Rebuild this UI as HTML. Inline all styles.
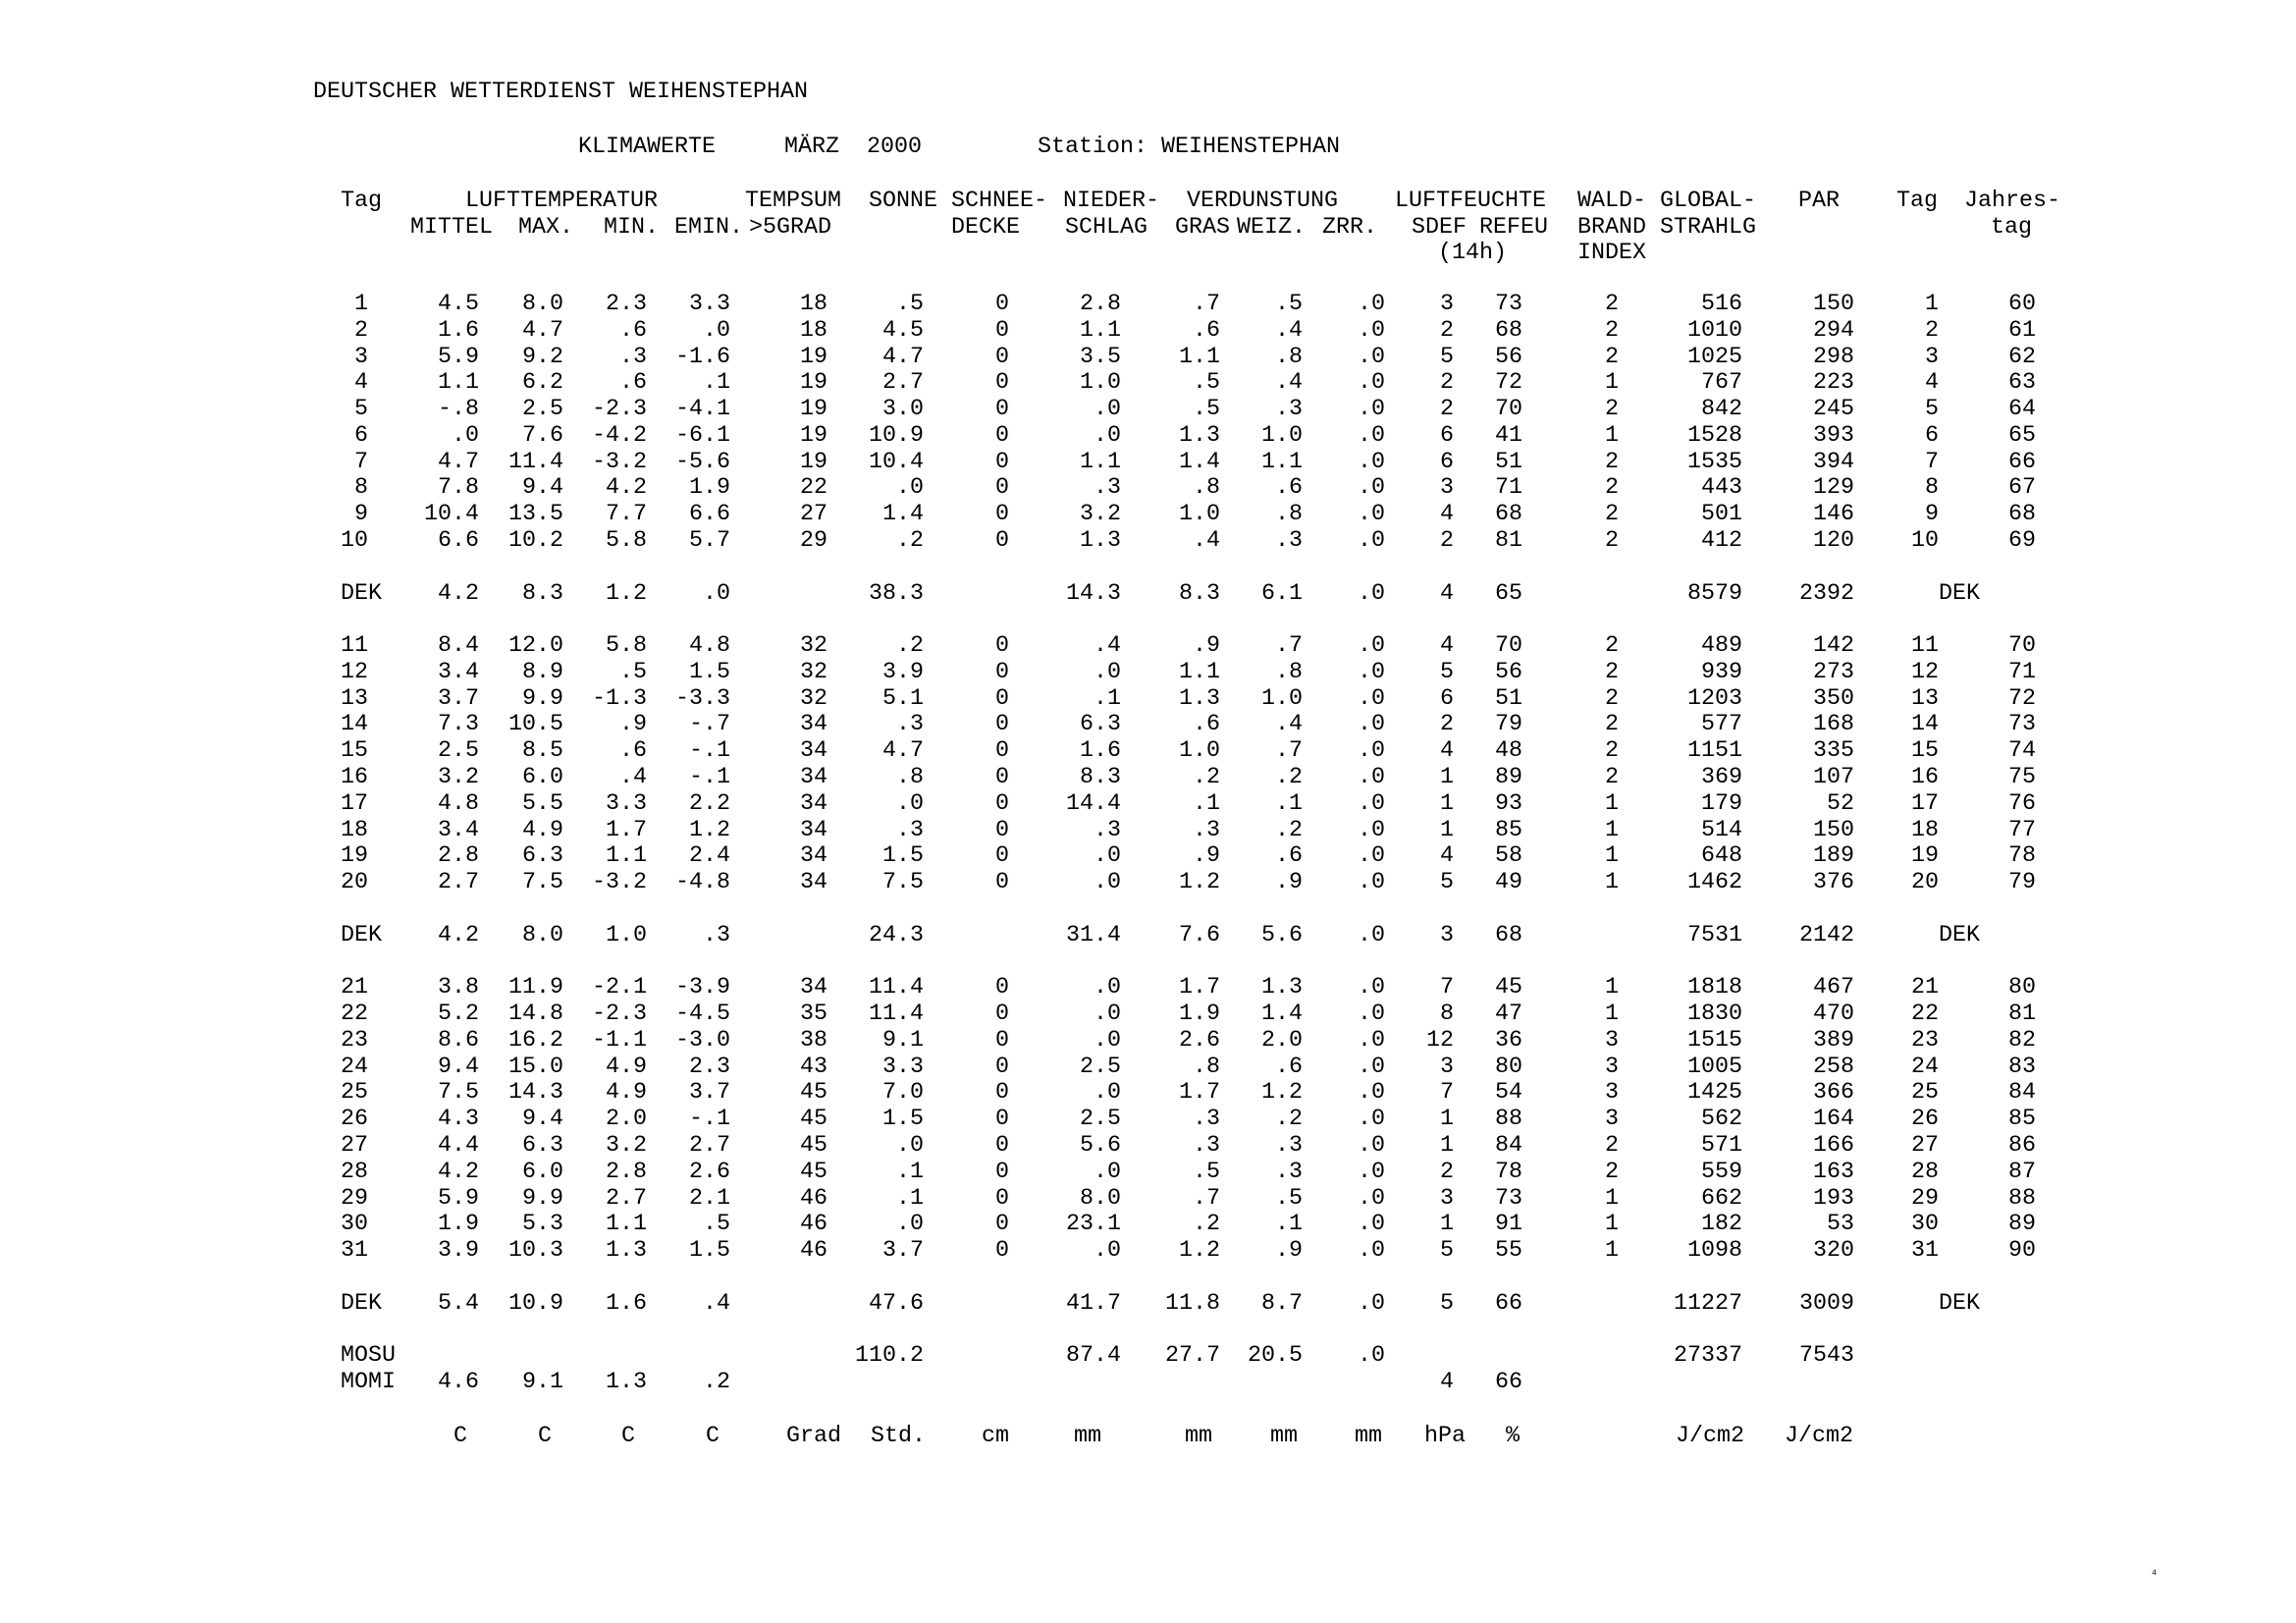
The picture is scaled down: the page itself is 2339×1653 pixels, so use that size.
<!DOCTYPE html>
<html><head><meta charset="utf-8"><style>
html,body{margin:0;padding:0;background:#fff;}
body{width:2339px;height:1653px;position:relative;overflow:hidden;font-family:"Liberation Mono",monospace;font-size:23.33px;color:#000;}
.a{position:absolute;white-space:pre;line-height:26.9px;}
#t{position:absolute;left:319px;top:82.7px;}
.r{height:26.79px;line-height:26.79px;white-space:nowrap;}
.r span{display:inline-block;text-align:right;white-space:pre;vertical-align:top;position:relative;}
.r span:nth-child(1){width:56px}
.r span:nth-child(2){width:112px;left:1px}
.r span:nth-child(3){width:84px;left:3px}
.r span:nth-child(4){width:84px;left:4px}
.r span:nth-child(5){width:84px;left:5px}
.r span:nth-child(6){width:98px;left:6px}
.r span:nth-child(7){width:98px;left:6px}
.r span:nth-child(8){width:84px;left:9px}
.r span:nth-child(9){width:112px;left:11px}
.r span:nth-child(10){width:112px;left:0px}
.r span:nth-child(11){width:84px;left:0px}
.r span:nth-child(12){width:84px;left:0px}
.r span:nth-child(13){width:70px;left:0px}
.r span:nth-child(14){width:70px;left:0px}
.r span:nth-child(15){width:98px}
.r span:nth-child(16){width:126px}
.r span:nth-child(17){width:112px;left:2px}
.r span:nth-child(18){width:84px;left:4px}
.r span:nth-child(19){width:98px;left:5px}
.r span.d{left:-10px}
.r span.l{text-align:left;padding-left:28px;box-sizing:border-box;}
</style></head><body>
<div class="a" style="left:319px;top:81px">DEUTSCHER WETTERDIENST WEIHENSTEPHAN</div>
<div class="a" style="left:589px;top:136.5px">KLIMAWERTE</div>
<div class="a" style="left:799px;top:136.5px">MÄRZ</div>
<div class="a" style="left:883px;top:136.5px">2000</div>
<div class="a" style="left:1057px;top:136.5px">Station: WEIHENSTEPHAN</div>

<div class="a" style="left:347px;top:191.6px">Tag</div>
<div class="a" style="left:474px;top:191.6px">LUFTTEMPERATUR</div>
<div class="a" style="left:759px;top:191.6px">TEMPSUM</div>
<div class="a" style="left:885px;top:191.6px">SONNE</div>
<div class="a" style="left:969px;top:191.6px">SCHNEE-</div>
<div class="a" style="left:1083px;top:191.6px">NIEDER-</div>
<div class="a" style="left:1209px;top:191.6px">VERDUNSTUNG</div>
<div class="a" style="left:1421px;top:191.6px">LUFTFEUCHTE</div>
<div class="a" style="left:1607px;top:191.6px">WALD-</div>
<div class="a" style="left:1691px;top:191.6px">GLOBAL-</div>
<div class="a" style="left:1832px;top:191.6px">PAR</div>
<div class="a" style="left:1932px;top:191.6px">Tag</div>
<div class="a" style="left:2001px;top:191.6px">Jahres-</div>

<div class="a" style="left:418px;top:218.5px">MITTEL</div>
<div class="a" style="left:528px;top:218.5px">MAX.</div>
<div class="a" style="left:615px;top:218.5px">MIN.</div>
<div class="a" style="left:687px;top:218.5px">EMIN.</div>
<div class="a" style="left:763px;top:218.5px">&gt;5GRAD</div>
<div class="a" style="left:969px;top:218.5px">DECKE</div>
<div class="a" style="left:1085px;top:218.5px">SCHLAG</div>
<div class="a" style="left:1197px;top:218.5px">GRAS</div>
<div class="a" style="left:1260px;top:218.5px">WEIZ.</div>
<div class="a" style="left:1347px;top:218.5px">ZRR.</div>
<div class="a" style="left:1438px;top:218.5px">SDEF</div>
<div class="a" style="left:1507px;top:218.5px">REFEU</div>
<div class="a" style="left:1607px;top:218.5px">BRAND</div>
<div class="a" style="left:1691px;top:218.5px">STRAHLG</div>
<div class="a" style="left:2028px;top:218.5px">tag</div>

<div class="a" style="left:1465px;top:245.4px">(14h)</div>
<div class="a" style="left:1607px;top:245.4px">INDEX</div>

<div id="t">
<div class="r"></div><div class="r"></div><div class="r"></div><div class="r"></div><div class="r"></div><div class="r"></div><div class="r"></div><div class="r"></div>
<div class="r"><span>1</span><span>4.5</span><span>8.0</span><span>2.3</span><span>3.3</span><span>18</span><span>.5</span><span>0</span><span>2.8</span><span>.7</span><span>.5</span><span>.0</span><span>3</span><span>73</span><span>2</span><span>516</span><span>150</span><span>1</span><span>60</span></div>
<div class="r"><span>2</span><span>1.6</span><span>4.7</span><span>.6</span><span>.0</span><span>18</span><span>4.5</span><span>0</span><span>1.1</span><span>.6</span><span>.4</span><span>.0</span><span>2</span><span>68</span><span>2</span><span>1010</span><span>294</span><span>2</span><span>61</span></div>
<div class="r"><span>3</span><span>5.9</span><span>9.2</span><span>.3</span><span>-1.6</span><span>19</span><span>4.7</span><span>0</span><span>3.5</span><span>1.1</span><span>.8</span><span>.0</span><span>5</span><span>56</span><span>2</span><span>1025</span><span>298</span><span>3</span><span>62</span></div>
<div class="r"><span>4</span><span>1.1</span><span>6.2</span><span>.6</span><span>.1</span><span>19</span><span>2.7</span><span>0</span><span>1.0</span><span>.5</span><span>.4</span><span>.0</span><span>2</span><span>72</span><span>1</span><span>767</span><span>223</span><span>4</span><span>63</span></div>
<div class="r"><span>5</span><span>-.8</span><span>2.5</span><span>-2.3</span><span>-4.1</span><span>19</span><span>3.0</span><span>0</span><span>.0</span><span>.5</span><span>.3</span><span>.0</span><span>2</span><span>70</span><span>2</span><span>842</span><span>245</span><span>5</span><span>64</span></div>
<div class="r"><span>6</span><span>.0</span><span>7.6</span><span>-4.2</span><span>-6.1</span><span>19</span><span>10.9</span><span>0</span><span>.0</span><span>1.3</span><span>1.0</span><span>.0</span><span>6</span><span>41</span><span>1</span><span>1528</span><span>393</span><span>6</span><span>65</span></div>
<div class="r"><span>7</span><span>4.7</span><span>11.4</span><span>-3.2</span><span>-5.6</span><span>19</span><span>10.4</span><span>0</span><span>1.1</span><span>1.4</span><span>1.1</span><span>.0</span><span>6</span><span>51</span><span>2</span><span>1535</span><span>394</span><span>7</span><span>66</span></div>
<div class="r"><span>8</span><span>7.8</span><span>9.4</span><span>4.2</span><span>1.9</span><span>22</span><span>.0</span><span>0</span><span>.3</span><span>.8</span><span>.6</span><span>.0</span><span>3</span><span>71</span><span>2</span><span>443</span><span>129</span><span>8</span><span>67</span></div>
<div class="r"><span>9</span><span>10.4</span><span>13.5</span><span>7.7</span><span>6.6</span><span>27</span><span>1.4</span><span>0</span><span>3.2</span><span>1.0</span><span>.8</span><span>.0</span><span>4</span><span>68</span><span>2</span><span>501</span><span>146</span><span>9</span><span>68</span></div>
<div class="r"><span>10</span><span>6.6</span><span>10.2</span><span>5.8</span><span>5.7</span><span>29</span><span>.2</span><span>0</span><span>1.3</span><span>.4</span><span>.3</span><span>.0</span><span>2</span><span>81</span><span>2</span><span>412</span><span>120</span><span>10</span><span>69</span></div>
<div class="r"></div>
<div class="r"><span class="l">DEK</span><span>4.2</span><span>8.3</span><span>1.2</span><span>.0</span><span></span><span>38.3</span><span></span><span>14.3</span><span>8.3</span><span>6.1</span><span>.0</span><span>4</span><span>65</span><span></span><span>8579</span><span>2392</span><span></span><span class="d">DEK   </span></div>
<div class="r"></div>
<div class="r"><span>11</span><span>8.4</span><span>12.0</span><span>5.8</span><span>4.8</span><span>32</span><span>.2</span><span>0</span><span>.4</span><span>.9</span><span>.7</span><span>.0</span><span>4</span><span>70</span><span>2</span><span>489</span><span>142</span><span>11</span><span>70</span></div>
<div class="r"><span>12</span><span>3.4</span><span>8.9</span><span>.5</span><span>1.5</span><span>32</span><span>3.9</span><span>0</span><span>.0</span><span>1.1</span><span>.8</span><span>.0</span><span>5</span><span>56</span><span>2</span><span>939</span><span>273</span><span>12</span><span>71</span></div>
<div class="r"><span>13</span><span>3.7</span><span>9.9</span><span>-1.3</span><span>-3.3</span><span>32</span><span>5.1</span><span>0</span><span>.1</span><span>1.3</span><span>1.0</span><span>.0</span><span>6</span><span>51</span><span>2</span><span>1203</span><span>350</span><span>13</span><span>72</span></div>
<div class="r"><span>14</span><span>7.3</span><span>10.5</span><span>.9</span><span>-.7</span><span>34</span><span>.3</span><span>0</span><span>6.3</span><span>.6</span><span>.4</span><span>.0</span><span>2</span><span>79</span><span>2</span><span>577</span><span>168</span><span>14</span><span>73</span></div>
<div class="r"><span>15</span><span>2.5</span><span>8.5</span><span>.6</span><span>-.1</span><span>34</span><span>4.7</span><span>0</span><span>1.6</span><span>1.0</span><span>.7</span><span>.0</span><span>4</span><span>48</span><span>2</span><span>1151</span><span>335</span><span>15</span><span>74</span></div>
<div class="r"><span>16</span><span>3.2</span><span>6.0</span><span>.4</span><span>-.1</span><span>34</span><span>.8</span><span>0</span><span>8.3</span><span>.2</span><span>.2</span><span>.0</span><span>1</span><span>89</span><span>2</span><span>369</span><span>107</span><span>16</span><span>75</span></div>
<div class="r"><span>17</span><span>4.8</span><span>5.5</span><span>3.3</span><span>2.2</span><span>34</span><span>.0</span><span>0</span><span>14.4</span><span>.1</span><span>.1</span><span>.0</span><span>1</span><span>93</span><span>1</span><span>179</span><span>52</span><span>17</span><span>76</span></div>
<div class="r"><span>18</span><span>3.4</span><span>4.9</span><span>1.7</span><span>1.2</span><span>34</span><span>.3</span><span>0</span><span>.3</span><span>.3</span><span>.2</span><span>.0</span><span>1</span><span>85</span><span>1</span><span>514</span><span>150</span><span>18</span><span>77</span></div>
<div class="r"><span>19</span><span>2.8</span><span>6.3</span><span>1.1</span><span>2.4</span><span>34</span><span>1.5</span><span>0</span><span>.0</span><span>.9</span><span>.6</span><span>.0</span><span>4</span><span>58</span><span>1</span><span>648</span><span>189</span><span>19</span><span>78</span></div>
<div class="r"><span>20</span><span>2.7</span><span>7.5</span><span>-3.2</span><span>-4.8</span><span>34</span><span>7.5</span><span>0</span><span>.0</span><span>1.2</span><span>.9</span><span>.0</span><span>5</span><span>49</span><span>1</span><span>1462</span><span>376</span><span>20</span><span>79</span></div>
<div class="r"></div>
<div class="r"><span class="l">DEK</span><span>4.2</span><span>8.0</span><span>1.0</span><span>.3</span><span></span><span>24.3</span><span></span><span>31.4</span><span>7.6</span><span>5.6</span><span>.0</span><span>3</span><span>68</span><span></span><span>7531</span><span>2142</span><span></span><span class="d">DEK   </span></div>
<div class="r"></div>
<div class="r"><span>21</span><span>3.8</span><span>11.9</span><span>-2.1</span><span>-3.9</span><span>34</span><span>11.4</span><span>0</span><span>.0</span><span>1.7</span><span>1.3</span><span>.0</span><span>7</span><span>45</span><span>1</span><span>1818</span><span>467</span><span>21</span><span>80</span></div>
<div class="r"><span>22</span><span>5.2</span><span>14.8</span><span>-2.3</span><span>-4.5</span><span>35</span><span>11.4</span><span>0</span><span>.0</span><span>1.9</span><span>1.4</span><span>.0</span><span>8</span><span>47</span><span>1</span><span>1830</span><span>470</span><span>22</span><span>81</span></div>
<div class="r"><span>23</span><span>8.6</span><span>16.2</span><span>-1.1</span><span>-3.0</span><span>38</span><span>9.1</span><span>0</span><span>.0</span><span>2.6</span><span>2.0</span><span>.0</span><span>12</span><span>36</span><span>3</span><span>1515</span><span>389</span><span>23</span><span>82</span></div>
<div class="r"><span>24</span><span>9.4</span><span>15.0</span><span>4.9</span><span>2.3</span><span>43</span><span>3.3</span><span>0</span><span>2.5</span><span>.8</span><span>.6</span><span>.0</span><span>3</span><span>80</span><span>3</span><span>1005</span><span>258</span><span>24</span><span>83</span></div>
<div class="r"><span>25</span><span>7.5</span><span>14.3</span><span>4.9</span><span>3.7</span><span>45</span><span>7.0</span><span>0</span><span>.0</span><span>1.7</span><span>1.2</span><span>.0</span><span>7</span><span>54</span><span>3</span><span>1425</span><span>366</span><span>25</span><span>84</span></div>
<div class="r"><span>26</span><span>4.3</span><span>9.4</span><span>2.0</span><span>-.1</span><span>45</span><span>1.5</span><span>0</span><span>2.5</span><span>.3</span><span>.2</span><span>.0</span><span>1</span><span>88</span><span>3</span><span>562</span><span>164</span><span>26</span><span>85</span></div>
<div class="r"><span>27</span><span>4.4</span><span>6.3</span><span>3.2</span><span>2.7</span><span>45</span><span>.0</span><span>0</span><span>5.6</span><span>.3</span><span>.3</span><span>.0</span><span>1</span><span>84</span><span>2</span><span>571</span><span>166</span><span>27</span><span>86</span></div>
<div class="r"><span>28</span><span>4.2</span><span>6.0</span><span>2.8</span><span>2.6</span><span>45</span><span>.1</span><span>0</span><span>.0</span><span>.5</span><span>.3</span><span>.0</span><span>2</span><span>78</span><span>2</span><span>559</span><span>163</span><span>28</span><span>87</span></div>
<div class="r"><span>29</span><span>5.9</span><span>9.9</span><span>2.7</span><span>2.1</span><span>46</span><span>.1</span><span>0</span><span>8.0</span><span>.7</span><span>.5</span><span>.0</span><span>3</span><span>73</span><span>1</span><span>662</span><span>193</span><span>29</span><span>88</span></div>
<div class="r"><span>30</span><span>1.9</span><span>5.3</span><span>1.1</span><span>.5</span><span>46</span><span>.0</span><span>0</span><span>23.1</span><span>.2</span><span>.1</span><span>.0</span><span>1</span><span>91</span><span>1</span><span>182</span><span>53</span><span>30</span><span>89</span></div>
<div class="r"><span>31</span><span>3.9</span><span>10.3</span><span>1.3</span><span>1.5</span><span>46</span><span>3.7</span><span>0</span><span>.0</span><span>1.2</span><span>.9</span><span>.0</span><span>5</span><span>55</span><span>1</span><span>1098</span><span>320</span><span>31</span><span>90</span></div>
<div class="r"></div>
<div class="r"><span class="l">DEK</span><span>5.4</span><span>10.9</span><span>1.6</span><span>.4</span><span></span><span>47.6</span><span></span><span>41.7</span><span>11.8</span><span>8.7</span><span>.0</span><span>5</span><span>66</span><span></span><span>11227</span><span>3009</span><span></span><span class="d">DEK   </span></div>
<div class="r"></div>
<div class="r"><span class="l">MOSU</span><span></span><span></span><span></span><span></span><span></span><span>110.2</span><span></span><span>87.4</span><span>27.7</span><span>20.5</span><span>.0</span><span></span><span></span><span></span><span>27337</span><span>7543</span><span></span><span></span></div>
<div class="r"><span class="l">MOMI</span><span>4.6</span><span>9.1</span><span>1.3</span><span>.2</span><span></span><span></span><span></span><span></span><span></span><span></span><span></span><span>4</span><span>66</span><span></span><span></span><span></span><span></span><span></span></div>
</div>

<div class="a" style="left:462px;top:1450px">C</div>
<div class="a" style="left:548px;top:1450px">C</div>
<div class="a" style="left:633px;top:1450px">C</div>
<div class="a" style="left:719px;top:1450px">C</div>
<div class="a" style="left:801px;top:1450px">Grad</div>
<div class="a" style="left:887px;top:1450px">Std.</div>
<div class="a" style="left:1000px;top:1450px">cm</div>
<div class="a" style="left:1094px;top:1450px">mm</div>
<div class="a" style="left:1207px;top:1450px">mm</div>
<div class="a" style="left:1294px;top:1450px">mm</div>
<div class="a" style="left:1380px;top:1450px">mm</div>
<div class="a" style="left:1451px;top:1450px">hPa</div>
<div class="a" style="left:1534px;top:1450px">%</div>
<div class="a" style="left:1707px;top:1450px">J/cm2</div>
<div class="a" style="left:1818px;top:1450px">J/cm2</div>

<div class="a" style="left:2192px;top:1598px;font-size:8px;line-height:10px">4</div>
</body></html>
